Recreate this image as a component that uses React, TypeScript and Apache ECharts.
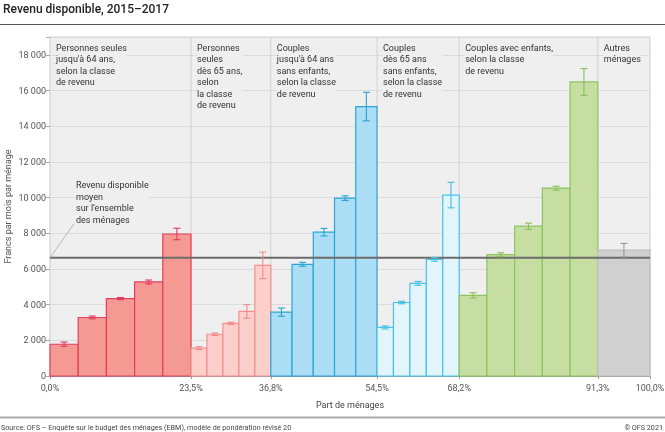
import React, { useEffect, useRef } from 'react';
import * as echarts from 'echarts';

// Cumulative share of households (x-axis tick labels / group boundaries, %)
const groupBounds = [0, 23.5, 36.8, 54.5, 68.2, 91.3, 100];

const groupLabels = [
  "Personnes seules\njusqu'à 64 ans,\nselon la classe\nde revenu",
  "Personnes\nseules\ndès 65 ans,\nselon\nla classe\nde revenu",
  "Couples\njusqu'à 64 ans\nsans enfants,\nselon la classe\nde revenu",
  "Couples\ndès 65 ans\nsans enfants,\nselon la classe\nde revenu",
  "Couples avec enfants,\nselon la classe\nde revenu",
  "Autres\nménages",
];

// Disposable income (francs per month per household), by income class
const singlesUnder65 = [1780, 3280, 4340, 5270, 7960];
const singlesOver65 = [1560, 2340, 2950, 3620, 6200];
const couplesUnder65 = [3580, 6260, 8060, 9970, 15100];
const couplesOver65 = [2720, 4120, 5190, 6540, 10140];
const couplesWithChildren = [4520, 6800, 8400, 10530, 16480];
const otherHouseholds = [7050];

// Confidence interval half-widths
const singlesUnder65Err = [120, 80, 60, 110, 320];
const singlesOver65Err = [80, 70, 70, 380, 740];
const couplesUnder65Err = [230, 110, 210, 130, 800];
const couplesOver65Err = [85, 70, 110, 105, 715];
const couplesWithChildrenErr = [145, 110, 170, 110, 750];
const otherHouseholdsErr = [380];

const averageIncome = 6630;

const groupValues = [singlesUnder65, singlesOver65, couplesUnder65, couplesOver65, couplesWithChildren, otherHouseholds];
const groupErrors = [singlesUnder65Err, singlesOver65Err, couplesUnder65Err, couplesOver65Err, couplesWithChildrenErr, otherHouseholdsErr];

const fills = ['#f59a93', '#fccfca', '#abddf4', '#e2f4fc', '#c7dea3', '#d0d0d0'];
const strokes = ['#e53c5c', '#f29090', '#2aa6d6', '#45c3ea', '#8cc460', '#bdbdbd'];
const errColors = ['#e03a5e', '#f08a8a', '#2aa2d2', '#40bde6', '#86c05a', '#9a9a9a'];

const FONT = 'Roboto, "Noto Sans", sans-serif';

export default function App() {
  const ref = useRef<HTMLDivElement>(null);

  useEffect(() => {
    if (!ref.current) return;
    const chart = echarts.init(ref.current, null, { renderer: 'svg' });

    const barData: number[][] = [];
    groupValues.forEach((vals, g) => {
      const b0 = groupBounds[g];
      const b1 = groupBounds[g + 1];
      const w = (b1 - b0) / vals.length;
      vals.forEach((v, i) => {
        barData.push([b0 + i * w, b0 + (i + 1) * w, v, groupErrors[g][i], g]);
      });
    });

    const sepData = groupBounds.slice(1, -1).map((b) => [b, 0]);

    chart.setOption({
      animation: false,
      textStyle: { fontFamily: FONT },
      grid: {
        left: 50,
        right: 15,
        top: 37,
        bottom: 56,
        containLabel: false,
        outerBoundsMode: 'none',
        show: true,
        backgroundColor: '#efefef',
        borderColor: '#cccccc',
        borderWidth: 1,
      },
      xAxis: {
        type: 'value',
        min: 0,
        max: 100,
        name: 'Part de ménages',
        nameLocation: 'middle',
        nameGap: 24,
        nameTextStyle: { fontSize: 9, color: '#444', fontFamily: FONT },
        axisLine: { show: true, lineStyle: { color: '#999', width: 1 } },
        axisTick: { show: true, customValues: groupBounds, length: 3, lineStyle: { color: '#999' } },
        axisLabel: {
          customValues: groupBounds,
          fontSize: 9,
          color: '#555',
          margin: 7,
          fontFamily: FONT,
          formatter: (v: number) => v.toFixed(1).replace('.', ',') + '%',
        },
        splitLine: { show: false },
      },
      yAxis: {
        type: 'value',
        min: 0,
        max: 19000,
        interval: 2000,
        axisLine: { show: false },
        axisTick: { show: true, length: 4, lineStyle: { color: '#aaa' } },
        axisLabel: {
          fontSize: 9,
          color: '#555',
          margin: 4,
          fontFamily: FONT,
          formatter: (v: number) => (v > 18000 ? '' : String(v).replace(/\B(?=(\d{3})+(?!\d))/g, ' ')),
        },
        splitLine: { show: true, lineStyle: { color: '#dcdcdc', width: 1 } },
      },
      series: [
        {
          type: 'custom',
          name: 'separators',
          z: 1,
          data: sepData,
          encode: { x: 0, y: 1 },
          renderItem: (params: any, api: any) => {
            const top = api.coord([api.value(0), 19000]);
            const bot = api.coord([api.value(0), 0]);
            return {
              type: 'line',
              shape: { x1: top[0], y1: top[1], x2: bot[0], y2: bot[1] },
              style: { stroke: '#d2d2d2', lineWidth: 1 },
            };
          },
        },
        {
          type: 'custom',
          name: 'bars',
          z: 2,
          data: barData,
          encode: { x: [0, 1], y: 2 },
          renderItem: (params: any, api: any) => {
            const x0 = api.value(0);
            const x1 = api.value(1);
            const v = api.value(2);
            const g = api.value(4);
            const p0 = api.coord([x0, v]);
            const p1 = api.coord([x1, 0]);
            return {
              type: 'rect',
              shape: { x: p0[0], y: p0[1], width: p1[0] - p0[0], height: p1[1] - p0[1] },
              style: { fill: fills[g], stroke: strokes[g], lineWidth: 1.2 },
            };
          },
        },
        {
          type: 'line',
          name: 'average',
          z: 3,
          symbol: 'none',
          data: [[0, averageIncome], [100, averageIncome]],
          lineStyle: { color: '#6b6b6b', width: 2 },
        },
        {
          type: 'custom',
          name: 'errors',
          z: 4,
          data: barData,
          encode: { x: [0, 1], y: 2 },
          renderItem: (params: any, api: any) => {
            const xc = (api.value(0) + api.value(1)) / 2;
            const v = api.value(2);
            const e = api.value(3);
            const g = api.value(4);
            const hi = api.coord([xc, v + e]);
            const lo = api.coord([xc, v - e]);
            const c = errColors[g];
            const cap = 3.5;
            const st = { stroke: c, lineWidth: 1.1 };
            return {
              type: 'group',
              children: [
                { type: 'line', shape: { x1: hi[0], y1: hi[1], x2: lo[0], y2: lo[1] }, style: st },
                { type: 'line', shape: { x1: hi[0] - cap, y1: hi[1], x2: hi[0] + cap, y2: hi[1] }, style: st },
                { type: 'line', shape: { x1: lo[0] - cap, y1: lo[1], x2: lo[0] + cap, y2: lo[1] }, style: st },
              ],
            };
          },
        },
      ],
    });

    const px = (x: number, y: number) =>
      chart.convertToPixel({ xAxisIndex: 0, yAxisIndex: 0 }, [x, y]) as number[];

    const avgPt = px(0, averageIncome);
    const topY = px(0, 19000)[1];
    const botY = px(0, 0)[1];

    const graphics: any[] = [
      {
        type: 'text',
        left: 3,
        top: 3,
        style: { text: 'Revenu disponible, 2015–2017', fontSize: 12, fontWeight: 500, fill: '#222', fontFamily: FONT },
      },
      {
        type: 'line',
        shape: { x1: 0, y1: 24.5, x2: 665, y2: 24.5 },
        style: { stroke: '#555', lineWidth: 1 },
      },
      {
        type: 'line',
        shape: { x1: 0, y1: 417.5, x2: 665, y2: 417.5 },
        style: { stroke: '#aaa', lineWidth: 2 },
      },
      {
        type: 'text',
        x: 8,
        y: (topY + botY) / 2,
        rotation: Math.PI / 2,
        style: {
          text: 'Francs par mois par ménage',
          fontSize: 9,
          fill: '#555',
          fontFamily: FONT,
          align: 'center',
          verticalAlign: 'middle',
        },
      },
      {
        type: 'text',
        x: 1,
        y: 427,
        style: {
          text: 'Source: OFS – Enquête sur le budget des ménages (EBM), modèle de pondération révisé 20',
          fontSize: 7.2,
          fill: '#444',
          fontFamily: FONT,
          verticalAlign: 'middle',
        },
      },
      {
        type: 'text',
        x: 663,
        y: 427,
        style: { text: '© OFS 2021', fontSize: 7.2, fill: '#444', fontFamily: FONT, align: 'right', verticalAlign: 'middle' },
      },
    ];

    groupLabels.forEach((lab, g) => {
      const p = px(groupBounds[g], 0);
      graphics.push({
        type: 'text',
        x: p[0] + 6,
        y: topY + 5,
        z: 10,
        style: {
          text: lab,
          fontSize: 9,
          lineHeight: 11.5,
          fill: '#333',
          fontFamily: FONT,
          backgroundColor: '#efefef',
        },
      });
    });

    graphics.push({
      type: 'line',
      z: 10,
      shape: { x1: avgPt[0], y1: avgPt[1], x2: avgPt[0] + 24, y2: avgPt[1] - 34 },
      style: { stroke: '#aaa', lineWidth: 0.8 },
    });
    graphics.push({
      type: 'text',
      x: avgPt[0] + 26,
      y: avgPt[1] - 78,
      z: 10,
      style: {
        text: 'Revenu disponible\nmoyen\nsur l’ensemble\ndes ménages',
        fontSize: 9,
        lineHeight: 11.5,
        fill: '#333',
        fontFamily: FONT,
        backgroundColor: '#efefef',
      },
    });

    chart.setOption({ graphic: graphics });

    return () => chart.dispose();
  }, []);

  return (
    <div
      ref={ref}
      style={{ position: 'fixed', left: 0, top: 0, width: 665, height: 432 }}
    />
  );
}
